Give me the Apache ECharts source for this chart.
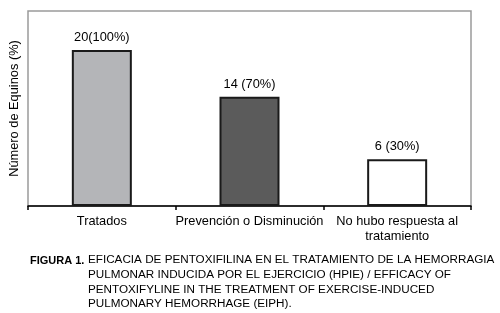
<!DOCTYPE html>
<html>
<head>
<meta charset="utf-8">
<script src="https://cdn.jsdelivr.net/npm/echarts@6/dist/echarts.min.js"></script>
<style>
  html, body { margin: 0; padding: 0; background: #fff; }
  #main { width: 500px; height: 313px; }
</style>
</head>
<body>
<div id="main"></div>
<script>
// datos
var categorias = ['Tratados', 'Prevención o Disminución', 'No hubo respuesta al\ntratamiento'];
var equinos = [20, 14, 6];
var etiquetas = ['20(100%)', '14 (70%)', '6 (30%)'];
var colores = ['#b4b5b8', '#5b5b5b', '#ffffff'];
var leyenda = [
  'EFICACIA DE PENTOXIFILINA EN EL TRATAMIENTO DE LA HEMORRAGIA',
  'PULMONAR INDUCIDA POR EL EJERCICIO (HPIE) / EFFICACY OF',
  'PENTOXIFYLINE IN THE TREATMENT OF EXERCISE-INDUCED',
  'PULMONARY HEMORRHAGE (EIPH).'
];

var fuente = 'Liberation Sans, Arial, sans-serif';
var myChart = echarts.init(document.getElementById('main'));

var textos = [{
  type: 'text', left: 30, top: 255,
  style: { text: 'FIGURA 1.', font: 'bold 11px ' + fuente, fill: '#000' }
}];
for (var i = 0; i < leyenda.length; i++) {
  textos.push({
    type: 'text', left: 88, top: 254 + i * 14.7,
    style: { text: leyenda[i], font: '11.7px ' + fuente, fill: '#000' }
  });
}

myChart.setOption({
  animation: false,
  textStyle: { fontFamily: fuente },
  grid: {
    left: 24, right: 29, top: 11, bottom: 107,
    show: true, borderColor: '#9a9a9a', borderWidth: 1.5, backgroundColor: '#fff'
  },
  xAxis: {
    type: 'category',
    data: categorias,
    axisLine: { lineStyle: { color: '#000', width: 1.5 } },
    axisTick: { show: true, length: 4, lineStyle: { color: '#000', width: 1.5 } },
    axisLabel: { color: '#000', fontSize: 12.8, margin: 8, lineHeight: 15, interval: 0 }
  },
  yAxis: {
    type: 'value',
    min: 0, max: 25,
    name: 'Número de Equinos (%)',
    nameLocation: 'middle',
    nameGap: 7,
    nameTextStyle: { color: '#000', fontSize: 12.8 },
    axisLine: { show: false },
    axisTick: { show: false },
    axisLabel: { show: false },
    splitLine: { show: false }
  },
  series: [{
    type: 'bar',
    barWidth: 60,
    data: equinos.map(function (v, k) {
      return {
        value: v,
        itemStyle: { color: colores[k] },
        label: { formatter: etiquetas[k] }
      };
    }),
    itemStyle: { borderColor: '#1a1a1a', borderWidth: 2 },
    label: { show: true, position: 'top', distance: 6, color: '#000', fontSize: 12.8 }
  }],
  graphic: textos
});
</script>
</body>
</html>
